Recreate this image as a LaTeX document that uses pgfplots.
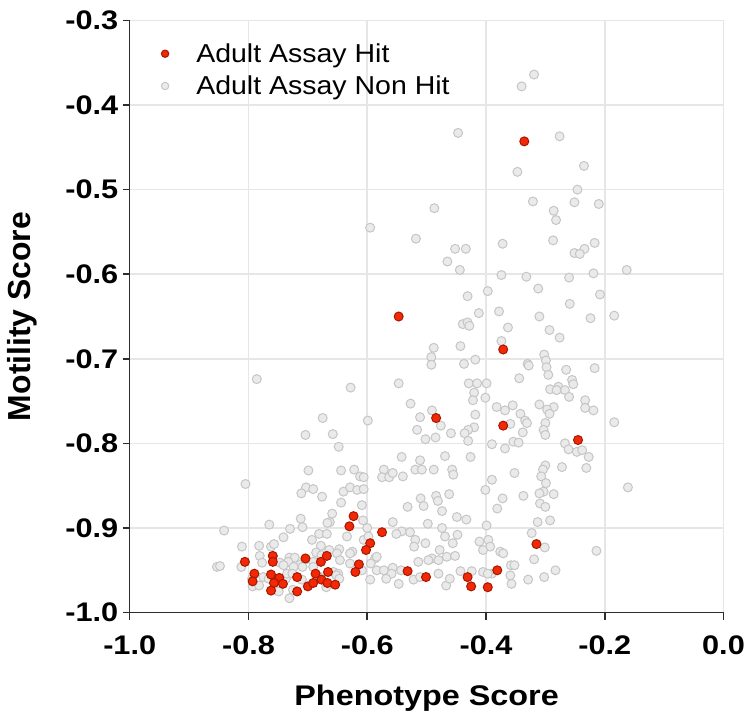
\documentclass[border=0pt]{standalone}
\usepackage{fontspec}
\setmainfont{Liberation Sans}
\newfontfamily\widefont{Liberation Sans}[FakeStretch=1.14]
\newfontfamily\legfont{Liberation Sans}[FakeStretch=1.10]
\usepackage{pgfplots}
\pgfplotsset{compat=1.18}
\definecolor{hitfill}{RGB}{242,40,6}
\definecolor{hitdraw}{RGB}{165,25,0}
\definecolor{nonfill}{RGB}{234,234,234}
\definecolor{nondraw}{RGB}{198,198,198}
\definecolor{gridc}{RGB}{230,230,230}
\definecolor{axc}{RGB}{45,45,45}
\begin{document}
\begin{tikzpicture}
\begin{axis}[
  scale only axis, width=593.8bp, height=592.2bp,
  xmin=-1, xmax=0, ymin=-1, ymax=-0.3,
  xtick={-1,-0.8,-0.6,-0.4,-0.2,0},
  ytick={-1,-0.9,-0.8,-0.7,-0.6,-0.5,-0.4,-0.3},
  axis x line*=bottom, axis y line*=left,
  axis line style={axc, line width=1.6bp, -},
  grid=major, major grid style={gridc, line width=1.6bp},
  tick align=outside, major tick length=7bp,
  tick style={axc, line width=1.6bp},
  /pgf/number format/fixed, /pgf/number format/fixed zerofill,
  /pgf/number format/precision=1, /pgf/number format/assume math mode=true,
  ticklabel style={font=\widefont\fontsize{27}{32}\selectfont\bfseries},
  xticklabel style={yshift=-13bp},
  yticklabel style={xshift=-1bp},
  legend style={at={(rel axis cs:0,1)}, anchor=north west, xshift=31.5bp, yshift=-23bp,
    draw=none, fill=none, inner sep=0pt, column sep=27.5bp, row sep=12bp,
    font=\legfont\fontsize{26}{30}\selectfont, nodes={inner sep=0pt}},
  legend cell align=left,
  legend image code/.code={\draw[mark repeat=2, mark phase=2, mark size=3.7bp] plot coordinates {(0bp,0bp) (8.5bp,0bp) (17bp,0bp)};},
]
\addplot[only marks, mark=*, mark size=4.5bp, mark options={fill=nonfill, draw=nondraw, line width=1bp}, forget plot] table {
x y
-0.319 -0.364
-0.340 -0.378
-0.447 -0.433
-0.276 -0.437
-0.235 -0.472
-0.347 -0.479
-0.246 -0.500
-0.321 -0.514
-0.251 -0.515
-0.210 -0.517
-0.487 -0.522
-0.286 -0.525
-0.282 -0.536
-0.595 -0.545
-0.518 -0.558
-0.287 -0.560
-0.372 -0.564
-0.217 -0.563
-0.234 -0.570
-0.452 -0.570
-0.434 -0.570
-0.251 -0.575
-0.242 -0.576
-0.465 -0.585
-0.444 -0.595
-0.163 -0.595
-0.374 -0.601
-0.332 -0.603
-0.260 -0.604
-0.219 -0.599
-0.312 -0.617
-0.397 -0.620
-0.208 -0.624
-0.431 -0.626
-0.259 -0.635
-0.412 -0.646
-0.378 -0.644
-0.310 -0.650
-0.184 -0.649
-0.224 -0.652
-0.439 -0.659
-0.431 -0.657
-0.428 -0.661
-0.363 -0.663
-0.293 -0.666
-0.276 -0.675
-0.374 -0.679
-0.488 -0.687
-0.443 -0.685
-0.302 -0.695
-0.299 -0.702
-0.298 -0.710
-0.295 -0.719
-0.217 -0.711
-0.265 -0.713
-0.492 -0.698
-0.492 -0.707
-0.418 -0.701
-0.437 -0.706
-0.330 -0.706
-0.328 -0.708
-0.344 -0.723
-0.255 -0.725
-0.786 -0.724
-0.547 -0.729
-0.429 -0.729
-0.415 -0.729
-0.399 -0.729
-0.253 -0.730
-0.278 -0.733
-0.628 -0.734
-0.292 -0.736
-0.281 -0.737
-0.267 -0.737
-0.420 -0.740
-0.260 -0.745
-0.422 -0.749
-0.401 -0.746
-0.233 -0.749
-0.527 -0.753
-0.382 -0.757
-0.355 -0.755
-0.310 -0.754
-0.286 -0.757
-0.297 -0.760
-0.233 -0.758
-0.219 -0.761
-0.491 -0.761
-0.368 -0.761
-0.293 -0.765
-0.342 -0.765
-0.511 -0.769
-0.418 -0.766
-0.334 -0.773
-0.331 -0.776
-0.675 -0.770
-0.599 -0.773
-0.184 -0.775
-0.476 -0.779
-0.359 -0.777
-0.300 -0.776
-0.420 -0.781
-0.516 -0.784
-0.430 -0.784
-0.303 -0.784
-0.338 -0.787
-0.658 -0.789
-0.704 -0.790
-0.459 -0.788
-0.436 -0.788
-0.300 -0.790
-0.485 -0.793
-0.502 -0.795
-0.430 -0.797
-0.354 -0.798
-0.345 -0.799
-0.390 -0.801
-0.267 -0.800
-0.368 -0.806
-0.648 -0.804
-0.261 -0.807
-0.247 -0.810
-0.238 -0.808
-0.227 -0.816
-0.469 -0.815
-0.426 -0.816
-0.542 -0.816
-0.511 -0.820
-0.300 -0.826
-0.272 -0.828
-0.231 -0.829
-0.699 -0.832
-0.644 -0.832
-0.622 -0.831
-0.572 -0.831
-0.519 -0.831
-0.508 -0.831
-0.488 -0.831
-0.457 -0.831
-0.352 -0.835
-0.304 -0.831
-0.307 -0.839
-0.455 -0.837
-0.612 -0.839
-0.606 -0.840
-0.575 -0.840
-0.563 -0.840
-0.557 -0.835
-0.540 -0.839
-0.390 -0.843
-0.299 -0.847
-0.805 -0.848
-0.161 -0.852
-0.703 -0.852
-0.691 -0.854
-0.640 -0.857
-0.629 -0.852
-0.617 -0.855
-0.606 -0.854
-0.401 -0.855
-0.303 -0.857
-0.310 -0.859
-0.286 -0.860
-0.711 -0.859
-0.676 -0.863
-0.484 -0.862
-0.462 -0.860
-0.337 -0.862
-0.510 -0.865
-0.372 -0.865
-0.481 -0.868
-0.644 -0.870
-0.505 -0.874
-0.609 -0.873
-0.309 -0.871
-0.300 -0.875
-0.532 -0.875
-0.474 -0.880
-0.381 -0.877
-0.659 -0.883
-0.498 -0.895
-0.313 -0.893
-0.292 -0.891
-0.663 -0.893
-0.712 -0.889
-0.765 -0.896
-0.709 -0.899
-0.667 -0.894
-0.607 -0.891
-0.557 -0.893
-0.474 -0.900
-0.449 -0.887
-0.433 -0.890
-0.841 -0.903
-0.730 -0.901
-0.323 -0.906
-0.399 -0.897
-0.528 -0.905
-0.542 -0.904
-0.551 -0.907
-0.741 -0.911
-0.693 -0.914
-0.681 -0.907
-0.668 -0.907
-0.634 -0.910
-0.600 -0.900
-0.606 -0.914
-0.598 -0.910
-0.469 -0.910
-0.448 -0.908
-0.519 -0.914
-0.521 -0.922
-0.502 -0.918
-0.456 -0.918
-0.411 -0.916
-0.396 -0.914
-0.301 -0.923
-0.393 -0.922
-0.405 -0.926
-0.214 -0.927
-0.811 -0.922
-0.782 -0.921
-0.762 -0.922
-0.757 -0.919
-0.678 -0.921
-0.647 -0.925
-0.625 -0.928
-0.587 -0.936
-0.478 -0.926
-0.376 -0.928
-0.371 -0.930
-0.491 -0.936
-0.497 -0.938
-0.480 -0.938
-0.514 -0.940
-0.466 -0.934
-0.452 -0.933
-0.319 -0.937
-0.358 -0.944
-0.352 -0.944
-0.781 -0.933
-0.731 -0.935
-0.722 -0.935
-0.703 -0.937
-0.686 -0.929
-0.677 -0.932
-0.664 -0.926
-0.651 -0.930
-0.629 -0.930
-0.646 -0.938
-0.629 -0.942
-0.691 -0.940
-0.853 -0.946
-0.848 -0.945
-0.812 -0.946
-0.777 -0.941
-0.747 -0.941
-0.733 -0.940
-0.741 -0.944
-0.712 -0.943
-0.709 -0.946
-0.724 -0.946
-0.691 -0.946
-0.594 -0.942
-0.584 -0.934
-0.584 -0.950
-0.572 -0.950
-0.557 -0.947
-0.543 -0.950
-0.559 -0.954
-0.443 -0.951
-0.424 -0.951
-0.405 -0.952
-0.390 -0.954
-0.283 -0.950
-0.794 -0.960
-0.775 -0.958
-0.766 -0.960
-0.737 -0.960
-0.735 -0.954
-0.726 -0.954
-0.679 -0.958
-0.657 -0.952
-0.649 -0.954
-0.652 -0.956
-0.647 -0.960
-0.609 -0.950
-0.595 -0.961
-0.568 -0.960
-0.547 -0.966
-0.522 -0.961
-0.511 -0.958
-0.480 -0.954
-0.467 -0.968
-0.461 -0.960
-0.397 -0.954
-0.357 -0.966
-0.329 -0.961
-0.302 -0.958
-0.359 -0.956
-0.793 -0.969
-0.782 -0.968
-0.731 -0.983
-0.749 -0.975
-0.725 -0.973
-0.710 -0.961
-0.669 -0.970
};
\addplot[only marks, mark=*, mark size=4.5bp, mark options={fill=hitfill, draw=hitdraw, line width=1bp}] table {
x y
-0.3355 -0.443
-0.547 -0.650
-0.371 -0.689
-0.484 -0.770
-0.371 -0.779
-0.245 -0.796
-0.623 -0.886
-0.630 -0.898
-0.575 -0.905
-0.595 -0.918
-0.602 -0.926
-0.614 -0.943
-0.620 -0.952
-0.532 -0.951
-0.501 -0.958
-0.315 -0.919
-0.381 -0.950
-0.431 -0.958
-0.425 -0.969
-0.397 -0.970
-0.806 -0.940
-0.790 -0.954
-0.793 -0.963
-0.759 -0.933
-0.759 -0.940
-0.762 -0.955
-0.748 -0.959
-0.757 -0.965
-0.742 -0.966
-0.762 -0.974
-0.718 -0.958
-0.718 -0.975
-0.704 -0.936
-0.700 -0.969
-0.691 -0.965
-0.687 -0.954
-0.677 -0.961
-0.678 -0.940
-0.668 -0.933
-0.666 -0.952
-0.667 -0.965
-0.654 -0.967
};
\addlegendentry{Adult Assay Hit}
\addlegendimage{only marks, mark=*, mark options={fill=nonfill, draw=nondraw, line width=1bp}}
\addlegendentry{Adult Assay Non Hit}
\coordinate (O) at (rel axis cs:0,0);
\coordinate (T) at (rel axis cs:1,1);
\end{axis}
\node[anchor=base, inner sep=0pt, font=\widefont\fontsize{28.5}{34}\selectfont\bfseries] at ([shift={(296.9bp,-92.4bp)}]O) {Phenotype Score};
\node[rotate=90, anchor=north, inner sep=0pt, font=\fontsize{32}{36}\selectfont\bfseries] at ([shift={(-122.7bp,296.1bp)}]O) {Motility Score};
\pgfresetboundingbox
\path[use as bounding box] ([shift={(-129.7bp,-109.4bp)}]O) rectangle ([shift={(28.5bp,20.4bp)}]T);
\end{tikzpicture}
\end{document}
